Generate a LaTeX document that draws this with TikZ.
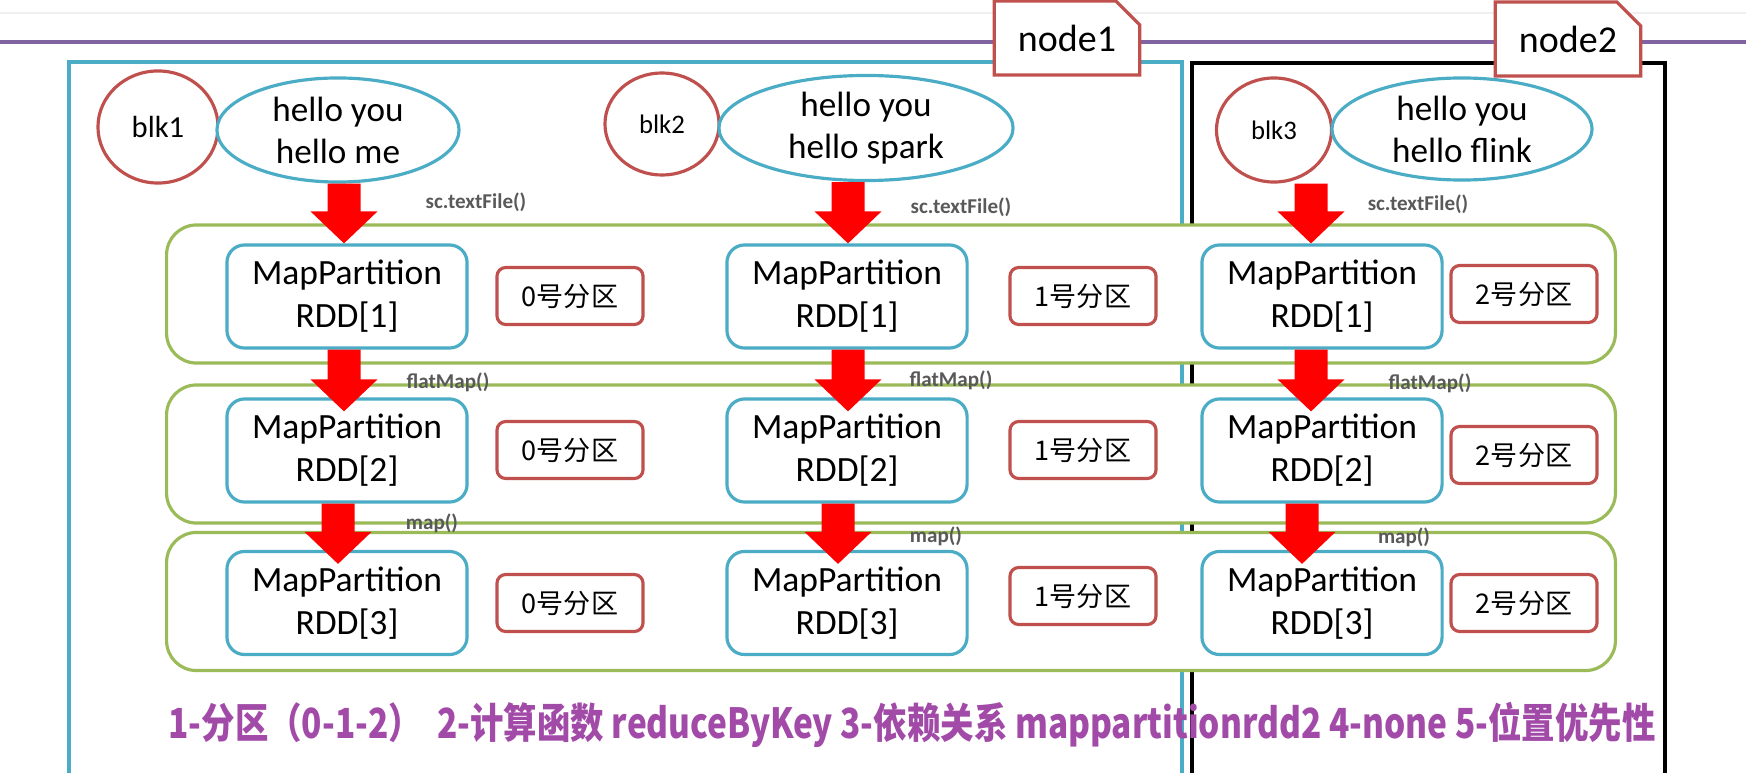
\documentclass[tikz,border=0pt]{standalone}
\usepackage{fontspec}
\setmainfont{Carlito}
\newfontfamily\cjkfont{Noto Sans CJK SC}
\usetikzlibrary{calc, shapes.geometric, shapes.misc}

\definecolor{hdfsred}{RGB}{192,80,77}
\definecolor{rddblue}{RGB}{75,172,198}
\definecolor{stagegreen}{RGB}{155,187,89}
\definecolor{lanepurple}{RGB}{128,100,162}
\definecolor{notepurple}{RGB}{162,74,168}
\definecolor{opgray}{RGB}{89,89,89}
\definecolor{flowred}{RGB}{255,0,0}

% fat red arrow: shaft from the source node, head ending at the tip coordinate
\newcommand{\rddarrow}[2]{%
  \fill[flowred] ($(#2 |- #1.south)+(-16.5,0)$) -- ($(#2 |- #1.south)+(16.5,0)$)
    -- ($(#2)+(16.5,-32)$) -- ($(#2)+(33.5,-32)$) -- (#2)
    -- ($(#2)+(-33.5,-32)$) -- ($(#2)+(-16.5,-32)$) -- cycle;}

\begin{document}
\begin{tikzpicture}[
    x=0.01cm, y=-0.01cm, % one unit = one pixel of the sketch, y pointing down
    blk/.style={ellipse, draw=hdfsred, line width=0.9pt, fill=white, inner sep=0pt},
    words/.style={ellipse, draw=rddblue, line width=0.9pt, fill=white, inner sep=0pt,
        align=center, font=\fontsize{10}{11.9}\selectfont},
    stage/.style={draw=stagegreen, line width=0.9pt, fill=white, rounded corners=8.5pt,
        minimum width=14.48cm, minimum height=1.38cm},
    rdd/.style={draw=rddblue, line width=0.9pt, fill=white, rounded corners=5pt, inner sep=0pt,
        minimum width=2.4cm, minimum height=1.03cm, align=center, font=\fontsize{10.1}{12.2}\selectfont},
    part/.style={draw=hdfsred, line width=0.9pt, fill=white, rounded corners=2.5pt,
        minimum width=1.46cm, minimum height=0.57cm, font=\cjkfont\fontsize{7.7}{9}\selectfont},
    op/.style={text=opgray, inner sep=0pt, font=\bfseries\fontsize{6}{7}\selectfont},
    hosttag/.style={chamfered rectangle, chamfered rectangle corners=north east,
        chamfered rectangle sep=3.4pt, draw=hdfsred, line width=0.9pt, fill=white,
        minimum width=1.34cm, minimum height=0.68cm, font=\fontsize{10.8}{12}\selectfont}
]
    \useasboundingbox (0,0) rectangle (1746,773);

    % page rules
    \draw[gray!12, line width=0.6pt] (0,13) -- (1746,13);
    \draw[lanepurple, line width=1.1pt] (0,42) -- (1746,42);

    % the two worker machines
    \draw[rddblue, line width=0.9pt] (69,780) -- (69,62) -- (1182,62) -- (1182,780);
    \draw[black, line width=1.2pt] (1192,780) -- (1192,63) -- (1665,63) -- (1665,780);
    \node[hosttag] (node1) at (1067,38) {node1};
    \node[hosttag] (node2) at (1568,39) {node2};

    % hdfs blocks and their lines
    \node[blk, minimum width=1.2cm, minimum height=1.12cm, font=\fontsize{8.7}{10}\selectfont] (blk1) at (158,127) {blk1};
    \node[words, minimum width=2.42cm, minimum height=1.04cm] (ell1) at (338,130) {hello you\\hello me};
    \node[blk, minimum width=1.14cm, minimum height=1.02cm, font=\fontsize{7.6}{9}\selectfont] (blk2) at (662,124) {blk2};
    \node[words, minimum width=2.94cm, minimum height=1.05cm] (ell2) at (866,128) {hello you\\hello spark};
    \node[blk, minimum width=1.15cm, minimum height=1.04cm, font=\fontsize{7.6}{9}\selectfont] (blk3) at (1274,130) {blk3};
    \node[words, minimum width=2.6cm, minimum height=1.02cm] (ell3) at (1462,129) {hello you\\hello flink};

    % one green band per rdd
    \node[stage] (stage1) at (891,294) {};
    \node[stage] (stage2) at (891,454) {};
    \node[stage] (stage3) at (891,601.5) {};

    % rdd partitions
    \node[rdd] (rdd11) at (347,296.5) {MapPartition\\RDD[1]};
    \node[rdd] (rdd12) at (847,296.5) {MapPartition\\RDD[1]};
    \node[rdd] (rdd13) at (1322,296.5) {MapPartition\\RDD[1]};
    \node[rdd] (rdd21) at (347,450.5) {MapPartition\\RDD[2]};
    \node[rdd] (rdd22) at (847,450.5) {MapPartition\\RDD[2]};
    \node[rdd] (rdd23) at (1322,450.5) {MapPartition\\RDD[2]};
    \node[rdd] (rdd31) at (347,603) {MapPartition\\RDD[3]};
    \node[rdd] (rdd32) at (847,603) {MapPartition\\RDD[3]};
    \node[rdd] (rdd33) at (1322,603) {MapPartition\\RDD[3]};

    \node[part] (part11) at (570,296) {0号分区};
    \node[part] (part12) at (1083,296) {1号分区};
    \node[part] (part13) at (1524,294) {2号分区};
    \node[part] (part21) at (570,450) {0号分区};
    \node[part] (part22) at (1083,450) {1号分区};
    \node[part] (part23) at (1524,455) {2号分区};
    \node[part] (part31) at (570,603) {0号分区};
    \node[part] (part32) at (1083,596) {1号分区};
    \node[part] (part33) at (1524,603) {2号分区};

    % operators
    \node[op] (read1) at (476,202) {sc.textFile()};
    \node[op] (read2) at (961,207) {sc.textFile()};
    \node[op] (read3) at (1418,204) {sc.textFile()};
    \node[op] (flat1) at (448,382) {flatMap()};
    \node[op] (flat2) at (951,380) {flatMap()};
    \node[op] (flat3) at (1430,383) {flatMap()};
    \node[op] (map1) at (432,523) {map()};
    \node[op] (map2) at (936,536) {map()};
    \node[op] (map3) at (1404,537) {map()};

    % arrow tips, slightly off the box centres like the sketch
    \coordinate (t11) at ($(rdd11.north)+(-3,0)$);
    \coordinate (t12) at ($(rdd12.north)+(1,0)$);
    \coordinate (t13) at ($(rdd13.north)+(-11,0)$);
    \coordinate (t21) at ($(rdd21.north)+(-3,14)$);
    \coordinate (t22) at ($(rdd22.north)+(1,14)$);
    \coordinate (t23) at ($(rdd23.north)+(-11,14)$);
    \coordinate (t31) at ($(rdd31.north)+(-9,14)$);
    \coordinate (t32) at ($(rdd32.north)+(-9,14)$);
    \coordinate (t33) at ($(rdd33.north)+(-20,14)$);

    \rddarrow{ell1}{t11}
    \rddarrow{ell2}{t12}
    \rddarrow{blk3}{t13}
    \rddarrow{rdd11}{t21}
    \rddarrow{rdd12}{t22}
    \rddarrow{rdd13}{t23}
    \rddarrow{rdd21}{t31}
    \rddarrow{rdd22}{t32}
    \rddarrow{rdd23}{t33}

    % the five properties of an rdd
    \node[text=notepurple, inner sep=0pt] (props) at (912,725)
        {\resizebox{14.86cm}{\height}{\cjkfont\bfseries\fontsize{11.8}{14}\selectfont
        1-分区（0-1-2）\ \ 2-计算函数 reduceByKey 3-依赖关系 mappartitionrdd2 4-none 5-位置优先性}};
\end{tikzpicture}
\end{document}
